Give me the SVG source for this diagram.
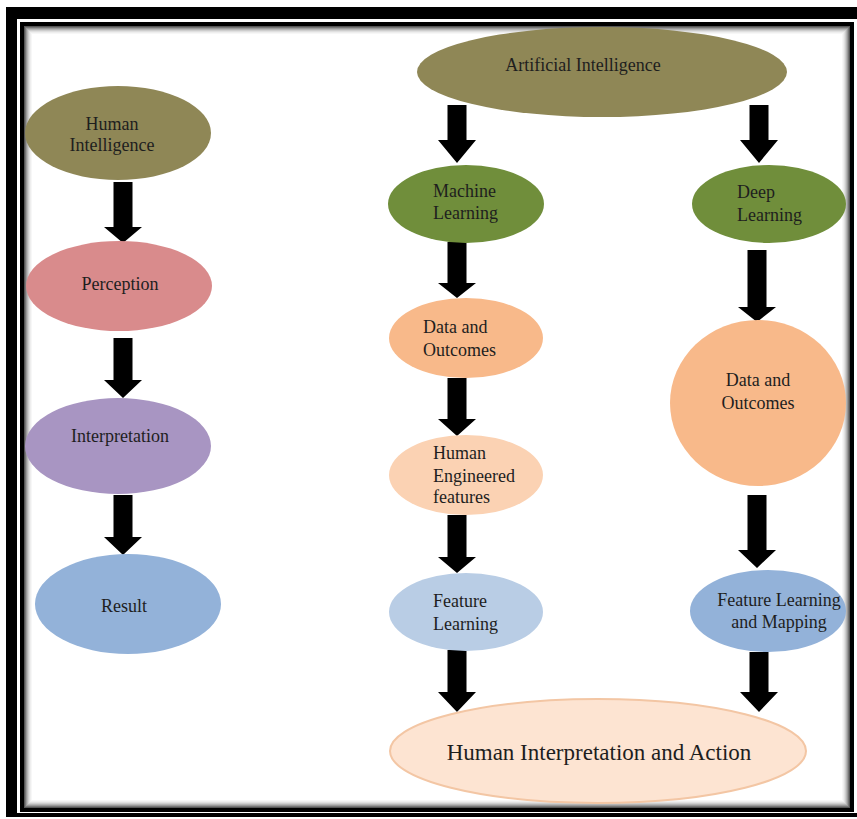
<svg xmlns="http://www.w3.org/2000/svg" width="857" height="819" viewBox="0 0 857 819">
  <style>
    .lbl { font-family: "Liberation Serif", "Times New Roman", serif; font-size: 18px; fill: #1e1e1e; }
    .big { font-size: 23px; }
    .arrow { fill: #000; }
    .frame { fill: none; stroke: #000; }
  </style>
  <defs>
    <filter id="soft" x="-5%" y="-5%" width="110%" height="110%">
      <feGaussianBlur stdDeviation="0.6"/>
    </filter>
  </defs>

  <rect x="0" y="0" width="857" height="819" fill="#fff"/>

  <!-- double frame -->
  <g id="frame">
    <path d="M6 7 H857 V19 H17 V813 H857 V817 H6 Z" fill="#000"/>
    <rect class="frame" x="22" y="24" width="830" height="786" stroke-width="4"/>
    <!-- inner shadow -->
    <rect x="24.5" y="26.5" width="825" height="781" fill="none" stroke="#555" stroke-width="1"/>
    <rect x="25.5" y="27.5" width="823" height="779" fill="none" stroke="#777" stroke-width="1"/>
    <rect x="26.5" y="28.5" width="821" height="777" fill="none" stroke="#999" stroke-width="1"/>
    <rect x="27.5" y="29.5" width="819" height="775" fill="none" stroke="#b5b5b5" stroke-width="1"/>
    <rect x="28.5" y="30.5" width="817" height="773" fill="none" stroke="#cdcdcd" stroke-width="1"/>
    <rect x="29.5" y="31.5" width="815" height="771" fill="none" stroke="#e0e0e0" stroke-width="1"/>
    <rect x="30.5" y="32.5" width="813" height="769" fill="none" stroke="#eeeeee" stroke-width="1"/>
    <rect x="31.5" y="33.5" width="811" height="767" fill="none" stroke="#f7f7f7" stroke-width="1"/>
  </g>

  <!-- connectors: block arrows -->
  <g id="connectors" class="arrow">
    <path d="M113.5 182 H132.5 V227 H142 L123 243 L104 227 H113.5 Z"/>
    <path d="M113.5 338 H132.5 V380 H142 L123 398 L104 380 H113.5 Z"/>
    <path d="M113.5 495 H132.5 V537 H142 L123 555 L104 537 H113.5 Z"/>
    <path d="M447.5 105 H466.5 V140 H476 L457 163 L438 140 H447.5 Z"/>
    <path d="M749.5 105 H768.5 V140 H778 L759 163 L740 140 H749.5 Z"/>
    <path d="M447.5 242 H466.5 V283 H476 L457 298 L438 283 H447.5 Z"/>
    <path d="M447.5 378 H466.5 V419 H476 L457 436 L438 419 H447.5 Z"/>
    <path d="M447.5 515 H466.5 V557 H476 L457 573 L438 557 H447.5 Z"/>
    <path d="M447.5 650 H466.5 V692 H476 L457 712 L438 692 H447.5 Z"/>
    <path d="M747.5 250 H766.5 V307 H776 L757 322 L738 307 H747.5 Z"/>
    <path d="M747.5 495 H766.5 V550 H776 L757 568 L738 550 H747.5 Z"/>
    <path d="M749.5 652 H768.5 V692 H778 L759 712 L740 692 H749.5 Z"/>
  </g>

  <!-- left column -->
  <g id="human-intelligence">
    <ellipse cx="118" cy="133" rx="93" ry="47" fill="#8f8757" filter="url(#soft)"/>
    <text class="lbl" x="112" y="130" text-anchor="middle">Human</text>
    <text class="lbl" x="112" y="151" text-anchor="middle">Intelligence</text>
  </g>
  <g id="perception">
    <ellipse cx="119" cy="286" rx="93" ry="45" fill="#d98b8c" filter="url(#soft)"/>
    <text class="lbl" x="120" y="290" text-anchor="middle">Perception</text>
  </g>
  <g id="interpretation">
    <ellipse cx="118" cy="446" rx="93" ry="48" fill="#a895c2" filter="url(#soft)"/>
    <text class="lbl" x="120" y="442" text-anchor="middle">Interpretation</text>
  </g>
  <g id="result">
    <ellipse cx="128" cy="604" rx="93" ry="50" fill="#93b2d9" filter="url(#soft)"/>
    <text class="lbl" x="124" y="612" text-anchor="middle">Result</text>
  </g>

  <!-- top node -->
  <g id="artificial-intelligence">
    <ellipse cx="602" cy="72" rx="185" ry="45" fill="#8f8757" filter="url(#soft)"/>
    <text class="lbl" x="583" y="71" text-anchor="middle">Artificial Intelligence</text>
  </g>

  <!-- machine learning branch -->
  <g id="machine-learning">
    <ellipse cx="466" cy="204" rx="78" ry="39" fill="#6f8e3b" filter="url(#soft)"/>
    <text class="lbl" x="433" y="197">Machine</text>
    <text class="lbl" x="433" y="219">Learning</text>
  </g>
  <g id="ml-data-outcomes">
    <ellipse cx="466" cy="338" rx="77" ry="40" fill="#f8b98a" filter="url(#soft)"/>
    <text class="lbl" x="423" y="333">Data and</text>
    <text class="lbl" x="423" y="356">Outcomes</text>
  </g>
  <g id="human-engineered-features">
    <ellipse cx="466" cy="475" rx="77" ry="40" fill="#fbd2b3" filter="url(#soft)"/>
    <text class="lbl" x="433" y="459">Human</text>
    <text class="lbl" x="433" y="482">Engineered</text>
    <text class="lbl" x="433" y="503">features</text>
  </g>
  <g id="feature-learning">
    <ellipse cx="466" cy="612" rx="77" ry="39" fill="#b9cde5" filter="url(#soft)"/>
    <text class="lbl" x="433" y="607">Feature</text>
    <text class="lbl" x="433" y="630">Learning</text>
  </g>

  <!-- deep learning branch -->
  <g id="deep-learning">
    <ellipse cx="769" cy="204" rx="77" ry="39" fill="#6f8e3b" filter="url(#soft)"/>
    <text class="lbl" x="737" y="198">Deep</text>
    <text class="lbl" x="737" y="221">Learning</text>
  </g>
  <g id="dl-data-outcomes">
    <ellipse cx="758" cy="403" rx="88" ry="83" fill="#f8b98a" filter="url(#soft)"/>
    <text class="lbl" x="758" y="386" text-anchor="middle">Data and</text>
    <text class="lbl" x="758" y="409" text-anchor="middle">Outcomes</text>
  </g>
  <g id="feature-learning-mapping">
    <ellipse cx="768" cy="611" rx="78" ry="41" fill="#93b2d9" filter="url(#soft)"/>
    <text class="lbl" x="779" y="606" text-anchor="middle">Feature Learning</text>
    <text class="lbl" x="779" y="628" text-anchor="middle">and Mapping</text>
  </g>

  <!-- final node -->
  <g id="human-interpretation-action">
    <ellipse cx="598" cy="751" rx="208" ry="52" fill="#fde4d2" stroke="#f3c6a4" stroke-width="2" filter="url(#soft)"/>
    <text class="lbl big" x="599" y="760" text-anchor="middle">Human Interpretation and Action</text>
  </g>
</svg>
